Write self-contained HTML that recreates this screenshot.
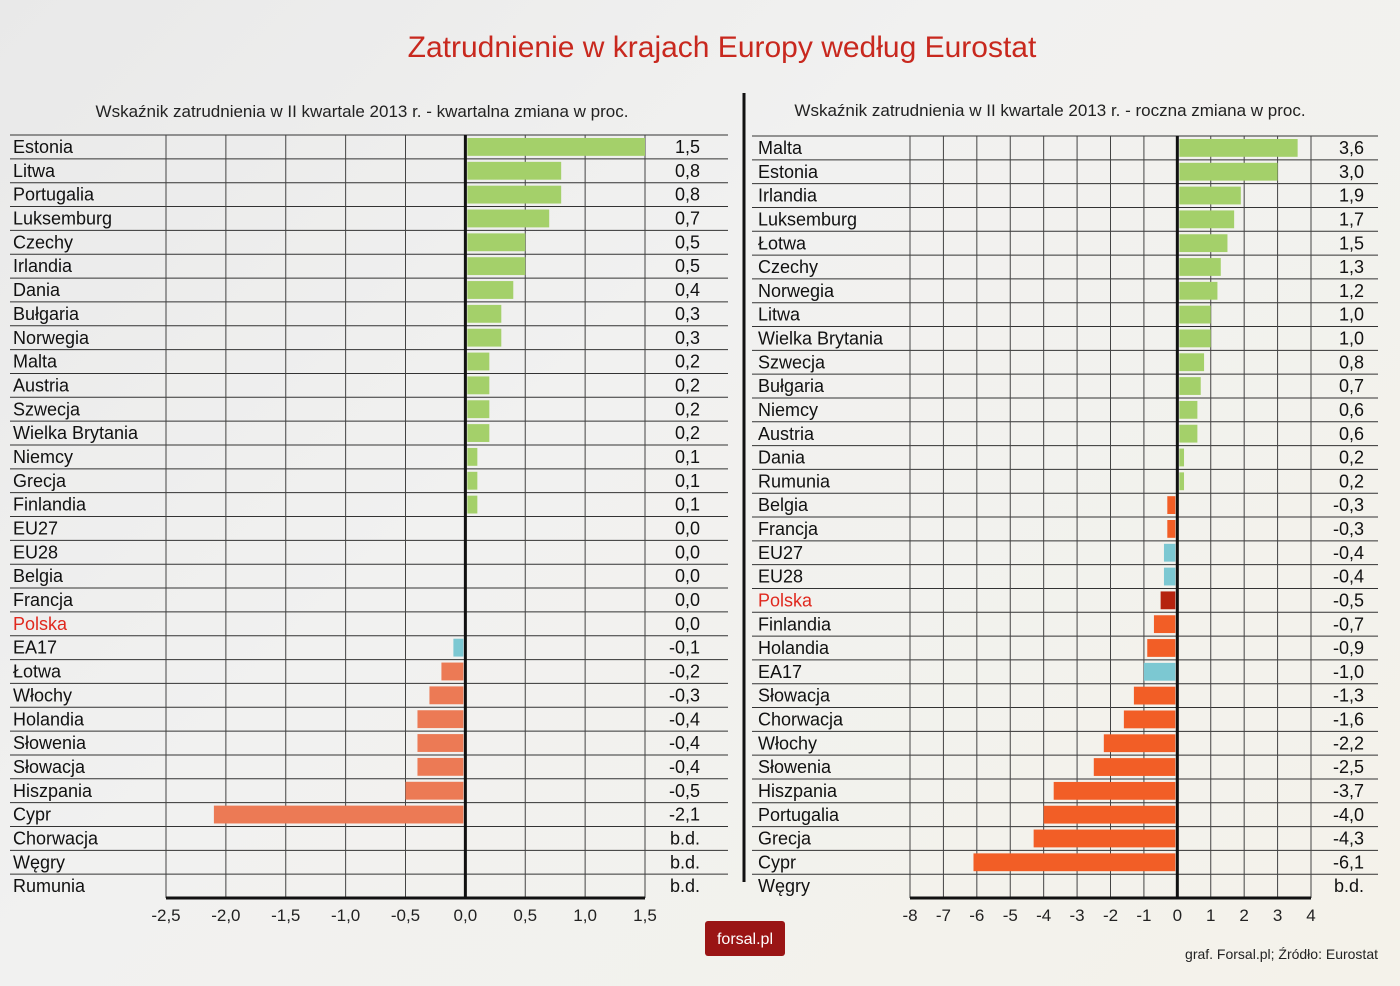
<!DOCTYPE html>
<html><head><meta charset="utf-8"><style>
body{margin:0;width:1400px;height:986px;overflow:hidden;background:linear-gradient(135deg,#e9e9e9 0%,#f1f1f0 40%,#f4f2ea 100%);font-family:"Liberation Sans",sans-serif}
svg{position:absolute;left:0;top:0}
</style></head><body>
<svg id="c" width="1400" height="986">
<text x="722" y="57" text-anchor="middle" font-size="30" fill="#c8281e">Zatrudnienie w krajach Europy według Eurostat</text>
<text x="362" y="117" text-anchor="middle" font-size="17" fill="#222">Wskaźnik zatrudnienia w II kwartale 2013 r. - kwartalna zmiana w proc.</text>
<text x="1050" y="116" text-anchor="middle" font-size="17" fill="#222">Wskaźnik zatrudnienia w II kwartale 2013 r. - roczna zmiana w proc.</text>
<line x1="744" y1="93" x2="744" y2="882" stroke="#111" stroke-width="3"/>
<g id="L"></g><g id="R"></g>
<rect x="705" y="921" width="80" height="35" rx="3" fill="#9a1515"/>
<text x="745" y="944" text-anchor="middle" font-size="16" fill="#fff">forsal.pl</text>
<text x="1378" y="959" text-anchor="end" font-size="14" fill="#222">graf. Forsal.pl; Źródło: Eurostat</text>
</svg>
<script>
const leftCats=["Estonia","Litwa","Portugalia","Luksemburg","Czechy","Irlandia","Dania","Bułgaria","Norwegia","Malta","Austria","Szwecja","Wielka Brytania","Niemcy","Grecja","Finlandia","EU27","EU28","Belgia","Francja","Polska","EA17","Łotwa","Włochy","Holandia","Słowenia","Słowacja","Hiszpania","Cypr","Chorwacja","Węgry","Rumunia"];
const leftVals=[1.5,0.8,0.8,0.7,0.5,0.5,0.4,0.3,0.3,0.2,0.2,0.2,0.2,0.1,0.1,0.1,0,0,0,0,0,-0.1,-0.2,-0.3,-0.4,-0.4,-0.4,-0.5,-2.1,null,null,null];
const leftTicks=[-2.5,-2,-1.5,-1,-0.5,0,0.5,1,1.5];
const rightCats=["Malta","Estonia","Irlandia","Luksemburg","Łotwa","Czechy","Norwegia","Litwa","Wielka Brytania","Szwecja","Bułgaria","Niemcy","Austria","Dania","Rumunia","Belgia","Francja","EU27","EU28","Polska","Finlandia","Holandia","EA17","Słowacja","Chorwacja","Włochy","Słowenia","Hiszpania","Portugalia","Grecja","Cypr","Węgry"];
const rightVals=[3.6,3.0,1.9,1.7,1.5,1.3,1.2,1.0,1.0,0.8,0.7,0.6,0.6,0.2,0.2,-0.3,-0.3,-0.4,-0.4,-0.5,-0.7,-0.9,-1.0,-1.3,-1.6,-2.2,-2.5,-3.7,-4.0,-4.3,-6.1,null];
const rightTicks=[-8,-7,-6,-5,-4,-3,-2,-1,0,1,2,3,4];
const NS="http://www.w3.org/2000/svg";
function mk(p,t,a){const e=document.createElementNS(NS,t);for(const k in a)e.setAttribute(k,a[k]);p.appendChild(e);return e;}
function fmt(v,dec){return v==null?"b.d.":(dec?v.toFixed(1):String(v)).replace(".",",");}
function draw(g,cats,vals,ticks,o){
  const x=v=>o.x0+(v-ticks[0])/(ticks[ticks.length-1]-ticks[0])*(o.x1-o.x0);
  const rh=(o.yb-o.top)/cats.length;
  for(let i=0;i<=cats.length-1;i++){
    const y=o.top+i*rh;
    const ln=mk(g,"line",{x1:o.lx,x2:o.rx,y1:y,y2:y,stroke:"#333","stroke-width":1});
    
    
  }
  ticks.forEach(t=>{
    const gl=mk(g,"line",{x1:x(t),x2:x(t),y1:o.top,y2:o.yb,stroke:t===0?"#111":"#444","stroke-width":t===0?3:1});
    
    
    const tl=mk(g,"text",{x:x(t),y:o.yb+23,"text-anchor":"middle","font-size":17,fill:"#222"});
    tl.textContent=fmt(t,o.dec);
    
    
  });
  const ax=mk(g,"line",{x1:o.x0,x2:o.x1,y1:o.yb,y2:o.yb,stroke:"#111","stroke-width":3});
  
  
  cats.forEach((c,i)=>{
    const y=o.top+i*rh, v=vals[i];
    const lab=mk(g,"text",{x:o.lx+o.lo,y:y+18,"font-size":18,fill:c==="Polska"?"#e0281e":"#111"});
    lab.textContent=c;
    
    
    if(v!=null&&v!==0){
      let col=v>0?"#a4d06a":o.neg;
      if(c==="EA17"||c==="EU27"||c==="EU28")col="#7cc8d2";
      if(c==="Polska")col="#b5230f";
      const b=mk(g,"rect",{x:Math.min(x(0),x(v))+(v>0?2:0),y:y+3,width:Math.abs(x(v)-x(0))-2,height:rh-6,fill:col});
      
      
    }
    const vl=mk(g,"text",{x:o.vx,y:y+18,"text-anchor":"end","font-size":18,fill:"#111"});
    vl.textContent=fmt(v,true);
    
    
  });
}
draw(document.getElementById("L"),leftCats,leftVals,leftTicks,{x0:166,x1:645,top:135,yb:898,lx:10,rx:728,vx:700,lo:3,dec:true,neg:"#ec7a55"});
draw(document.getElementById("R"),rightCats,rightVals,rightTicks,{x0:910,x1:1311,top:136,yb:898,lx:752,rx:1378,vx:1364,lo:6,dec:false,neg:"#f25e26"});
</script>
</body></html>
